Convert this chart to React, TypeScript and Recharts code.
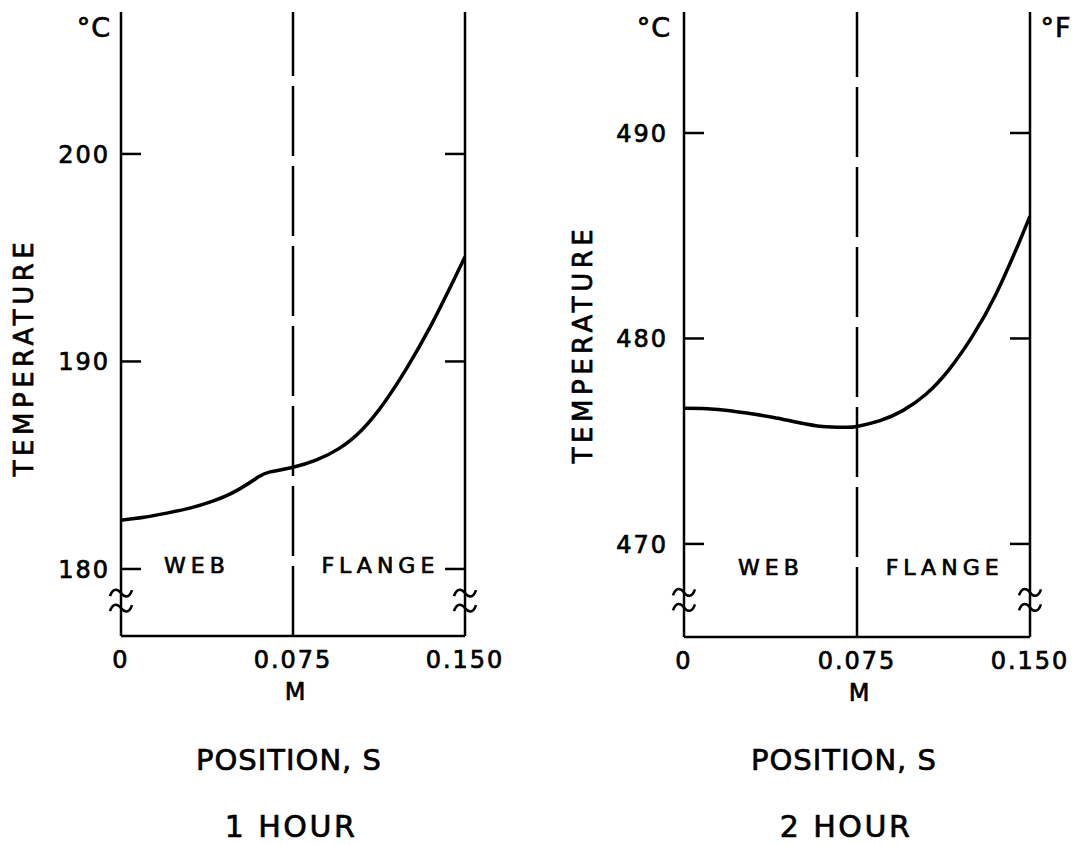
import { Label, Line, LineChart, ReferenceDot, ReferenceLine, XAxis, YAxis } from 'recharts'

const FONT = '"DejaVu Sans", sans-serif'

// position along the section, metres
const positions1h = [0, 0.01, 0.02, 0.03, 0.04, 0.05, 0.06, 0.065, 0.075, 0.085, 0.095, 0.105, 0.115, 0.125, 0.135, 0.145, 0.15]
const temps1h = [182.35, 182.49, 182.69, 182.93, 183.27, 183.75, 184.44, 184.68, 184.9, 185.24, 185.8, 186.7, 188.05, 189.75, 191.7, 193.9, 195.05]

const positions2h = [0, 0.01, 0.02, 0.03, 0.04, 0.05, 0.06, 0.07, 0.075, 0.085, 0.095, 0.105, 0.115, 0.125, 0.135, 0.145, 0.15]
const temps2h = [476.6, 476.58, 476.48, 476.32, 476.13, 475.9, 475.72, 475.68, 475.72, 476.0, 476.5, 477.3, 478.5, 480.1, 482.1, 484.6, 485.95]

const xTicks = [0, 0.075, 0.15]
const xTickLabels = ['0', '0.075', '0.150']
const xUnit = 'M'

const yTicks1h = [180, 190, 200]
const yTicks2h = [470, 480, 490]
const yDomain1h: [number, number] = [176.77, 206.84]
const yDomain2h: [number, number] = [465.47, 495.89]
const breakAt1h = 178.5
const breakAt2h = 467.3

const CAP = 0.365

function capText(x: number, y: number, s: string, size: number, spacing: number, anchor = 'middle') {
  return (
    <text
      x={x}
      y={y + size * CAP}
      fontFamily={FONT}
      fontSize={size}
      letterSpacing={spacing}
      textAnchor={anchor}
      fill='#000'
      stroke='#000'
      strokeWidth={0.7}
    >
      {s}
    </text>
  )
}

const XTick = (props: any) => {
  const { x, y, index } = props
  return (
    <g>
      {capText(x, y + 23, xTickLabels[index], 24, 2)}
      {xTicks[index] === 0.075 && capText(x + 2, y + 55, xUnit, 24, 0)}
    </g>
  )
}

const makeLeftTick = (gap: number) => (props: any) => {
  const { x, y, payload } = props
  return (
    <g>
      <line x1={x} x2={x + 20} y1={y} y2={y} stroke='#000' strokeWidth={2.5} />
      {capText(x - gap, y, String(payload.value), 24, 2, 'end')}
    </g>
  )
}

const RightTick = (props: any) => {
  const { x, y } = props
  return <line x1={x - 20} x2={x} y1={y} y2={y} stroke='#000' strokeWidth={2.5} />
}

const BreakMark = (props: any) => {
  const { cx, cy } = props
  const tilde = (y: number) =>
    `M ${cx - 11} ${y + 3} C ${cx - 8} ${y - 6}, ${cx - 3} ${y - 4}, ${cx} ${y} S ${cx + 8} ${y + 6}, ${cx + 11} ${y - 3}`
  return (
    <g fill='none' stroke='#000' strokeWidth={2.5}>
      <path d={tilde(cy - 7)} />
      <path d={tilde(cy + 8)} />
    </g>
  )
}

const regionText = (s: string) => (props: any) => capText(props.cx, props.cy, s, 22, 5)

type PanelProps = {
  left: number
  width: number
  yAxisWidth: number
  rightAxisWidth: number
  plotBottom: number
  xs: number[]
  ts: number[]
  domain: [number, number]
  yTicks: number[]
  breakAt: number
  labelGap: number
  tempX: number
  tempY: number
  unitX: number
  unitRight?: string
  titleX: number
  title: string
  web: [number, number]
  flange: [number, number]
}

function Panel(p: PanelProps) {
  const data = p.xs.map((s, i) => ({ s, t: p.ts[i] }))
  const height = 845
  return (
    <div style={{ position: 'absolute', left: p.left, top: 0 }}>
      <LineChart width={p.width} height={height} data={data} margin={{ top: 12, right: 0, bottom: 0, left: 0 }}>
        <XAxis
          dataKey='s'
          type='number'
          domain={[0, 0.15]}
          ticks={xTicks}
          interval={0}
          allowDataOverflow
          height={height - p.plotBottom}
          tickSize={0}
          tickMargin={0}
          tickLine={false}
          axisLine={{ stroke: '#000', strokeWidth: 2.5 }}
          tick={XTick}
        >
          <Label
            content={() => (
              <g>
                {capText(p.titleX, 759, 'POSITION, S', 29, 1)}
                {capText(p.titleX + 2, 826, p.title, 30, 2.5)}
              </g>
            )}
          />
        </XAxis>
        <YAxis
          type='number'
          domain={p.domain}
          ticks={p.yTicks}
          interval={0}
          allowDataOverflow
          width={p.yAxisWidth}
          tickSize={0}
          tickMargin={0}
          tickLine={false}
          axisLine={{ stroke: '#000', strokeWidth: 2.5 }}
          tick={makeLeftTick(p.labelGap)}
        >
          <Label
            content={() => (
              <g>
                <text
                  x={p.tempX}
                  y={p.tempY}
                  dy={26 * CAP}
                  transform={`rotate(-90 ${p.tempX} ${p.tempY})`}
                  fontFamily={FONT}
                  fontSize={26}
                  letterSpacing={4.5}
                  textAnchor='middle'
                  fill='#000'
                  stroke='#000'
                  strokeWidth={0.7}
                >
                  TEMPERATURE
                </text>
                {capText(p.unitX, 27, '°C', 27, 1)}
              </g>
            )}
          />
        </YAxis>
        <YAxis
          yAxisId='r'
          orientation='right'
          type='number'
          domain={p.domain}
          ticks={p.yTicks}
          interval={0}
          allowDataOverflow
          width={p.rightAxisWidth}
          tickSize={0}
          tickMargin={0}
          tickLine={false}
          axisLine={{ stroke: '#000', strokeWidth: 2.5 }}
          tick={RightTick}
        >
          {p.unitRight && (
            <Label content={() => capText(p.width - p.rightAxisWidth + 26, 27, p.unitRight as string, 27, 1)} />
          )}
        </YAxis>
        <ReferenceLine x={0.075} stroke='#000' strokeWidth={2.5} strokeDasharray='70 10' />
        <ReferenceDot x={0} y={p.breakAt} r={10} ifOverflow='visible' shape={BreakMark} />
        <ReferenceDot x={0.15} y={p.breakAt} r={10} ifOverflow='visible' shape={BreakMark} />
        <ReferenceDot x={p.web[0]} y={p.web[1]} r={1} ifOverflow='visible' shape={regionText('WEB')} />
        <ReferenceDot x={p.flange[0]} y={p.flange[1]} r={1} ifOverflow='visible' shape={regionText('FLANGE')} />
        <Line
          type='natural'
          dataKey='t'
          stroke='#000'
          strokeWidth={3.5}
          dot={false}
          isAnimationActive={false}
        />
      </LineChart>
    </div>
  )
}

export default function App() {
  return (
    <div style={{ position: 'absolute', left: 0, top: 0, width: 1089, height: 845, background: '#fff' }}>
      <Panel
        left={0}
        width={545}
        yAxisWidth={121}
        rightAxisWidth={80}
        plotBottom={636}
        xs={positions1h}
        ts={temps1h}
        domain={yDomain1h}
        yTicks={yTicks1h}
        breakAt={breakAt1h}
        labelGap={11}
        tempX={24}
        tempY={357}
        unitX={94}
        titleX={289}
        title='1 HOUR'
        web={[0.0331, 180.2]}
        flange={[0.1131, 180.2]}
      />
      <Panel
        left={545}
        width={544}
        yAxisWidth={139}
        rightAxisWidth={59}
        plotBottom={637}
        xs={positions2h}
        ts={temps2h}
        domain={yDomain2h}
        yTicks={yTicks2h}
        breakAt={breakAt2h}
        labelGap={16}
        tempX={38}
        tempY={344}
        unitX={109}
        unitRight='°F'
        titleX={299}
        title='2 HOUR'
        web={[0.0377, 468.9]}
        flange={[0.1130, 468.9]}
      />
    </div>
  )
}
